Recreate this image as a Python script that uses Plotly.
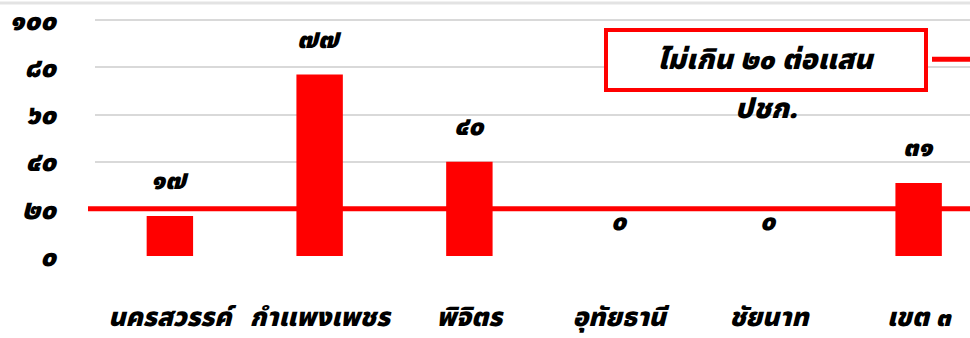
import plotly.graph_objects as go

# Rates per 100,000 population, by province
provinces = ["นครสวรรค์", "กำแพงเพชร", "พิจิตร", "อุทัยธานี", "ชัยนาท", "เขต ๓"]
rates = [17, 77, 40, 0, 0, 31]
threshold = 20
threshold_label_line1 = "ไม่เกิน ๒๐ ต่อแสน"
threshold_label_line2 = "ปชก."
y_tick_values = [0, 20, 40, 60, 80, 100]

THAI_DIGITS = str.maketrans("0123456789", "๐๑๒๓๔๕๖๗๘๙")


def thai_num(v):
    return str(v).translate(THAI_DIGITS)


RED = "#ff0000"
FONT = "Noto Sans Thai, Noto Sans, sans-serif"

# plot-area geometry in pixels, used to place the legend pieces
PLOT_LEFT, PLOT_WIDTH = 95, 875
PLOT_BOTTOM, PLOT_HEIGHT = 255.7, 238.6


def px_x(px):
    return (px - PLOT_LEFT) / PLOT_WIDTH


def px_y(py):
    return (PLOT_BOTTOM - py) / PLOT_HEIGHT


def bold_italic(size):
    return dict(family=FONT, size=size, color="black", weight=900, style="italic")


fig = go.Figure()
fig.add_trace(go.Bar(
    x=list(range(len(provinces))),
    y=rates,
    marker=dict(color=RED, line=dict(width=0)),
    width=0.31,
    showlegend=False,
    hoverinfo="skip",
))

# value labels above each bar
for i, v in enumerate(rates):
    fig.add_annotation(
        x=i, y=v, xref="x", yref="y",
        text=thai_num(v), showarrow=False,
        yshift=35, yanchor="middle",
        font=bold_italic(27),
    )

# threshold line across the whole chart width
fig.add_shape(
    type="line", xref="paper", yref="y",
    x0=px_x(88), x1=1.0, y0=threshold, y1=threshold,
    line=dict(color=RED, width=5), layer="above",
)

# legend: boxed label, wrapped second line and key line
fig.add_annotation(
    x=px_x(766), y=px_y(58), xref="paper", yref="paper",
    xanchor="center", yanchor="middle",
    text=threshold_label_line1, showarrow=False,
    font=bold_italic(28),
    bordercolor=RED, borderwidth=4, bgcolor="white",
    width=316, height=56, borderpad=0,
)
fig.add_shape(
    type="line", xref="paper", yref="paper",
    x0=px_x(932), x1=1.0, y0=px_y(57.5), y1=px_y(57.5),
    line=dict(color=RED, width=5),
)
fig.add_annotation(
    x=px_x(766), y=px_y(108), xref="paper", yref="paper",
    xanchor="center", yanchor="middle",
    text=threshold_label_line2, showarrow=False,
    font=bold_italic(28),
)

# faint shadow along the top edge
fig.add_shape(
    type="line", xref="paper", yref="paper",
    x0=-0.2, x1=1.0, y0=px_y(1), y1=px_y(1),
    line=dict(width=3, color="#e3e3e3"),
)

fig.update_layout(
    width=970, height=338,
    margin=dict(l=95, r=0, t=17, b=82),
    plot_bgcolor="white", paper_bgcolor="white",
    bargap=0.69,
    xaxis=dict(
        range=[-0.5, 5.343],
        tickmode="array",
        tickvals=list(range(len(provinces))),
        ticktext=provinces,
        showgrid=False, zeroline=False, showline=False,
        ticks="", ticklabelstandoff=43,
        tickfont=bold_italic(26),
    ),
    yaxis=dict(
        range=[0, 100.5],
        tickmode="array",
        tickvals=y_tick_values,
        ticktext=[thai_num(v) for v in y_tick_values],
        showgrid=True, gridcolor="#d9d9d9", gridwidth=2,
        zeroline=False, showline=False,
        ticks="", ticklabelstandoff=38,
        ticklabeloverflow="allow",
        tickfont=bold_italic(28),
    ),
)

fig.write_html("out.html")
